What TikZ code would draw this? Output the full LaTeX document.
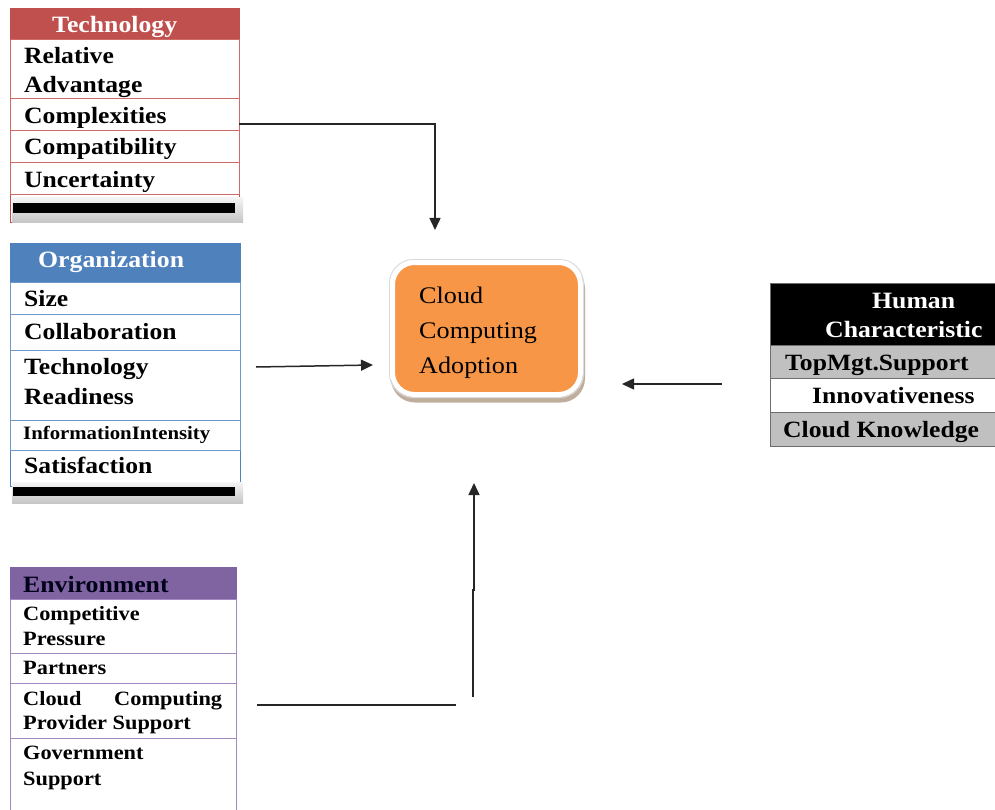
\documentclass[tikz,border=0pt]{standalone}
\usepackage{fontspec}
\setmainfont{Liberation Serif}[FakeStretch=1.1]
\usetikzlibrary{arrows.meta,shadows,calc}
\definecolor{techred}{HTML}{C0504D}
\definecolor{techline}{HTML}{D06A67}
\definecolor{orgblue}{HTML}{4F81BD}
\definecolor{orgline}{HTML}{6F98CC}
\definecolor{envpurple}{HTML}{8064A2}
\definecolor{envline}{HTML}{A08AC0}
\definecolor{humgray}{HTML}{C0C0C0}
\definecolor{humline}{HTML}{6E6E6E}
\definecolor{cloudorange}{HTML}{F79646}
\definecolor{conn}{HTML}{262626}
\newcommand\cellbox[6]{%
  \node[cellstyle,#6,minimum width={#4pt-#2pt},minimum height={#5pt-#3pt}] (#1) at (#2,#3) {};}
\begin{document}
\begin{tikzpicture}[x=1pt,y=-1pt,
  cellstyle/.style={draw,anchor=north west,inner sep=0pt,outer sep=0pt,line width=1pt},
  hd/.style={anchor=base west,inner sep=0pt,font=\bfseries\fontsize{23.4}{28}\selectfont},
  rowtxt/.style={anchor=base west,inner sep=0pt,text=black,font=\bfseries\fontsize{23.3}{28}\selectfont},
  envtxt/.style={anchor=base west,inner sep=0pt,text=black,font=\bfseries\fontsize{20.3}{24}\selectfont},
  cloudtxt/.style={anchor=base west,inner sep=0pt,text=black,font=\fontsize{23.8}{28}\selectfont},
  barpanel/.style={draw=none,anchor=north west,inner sep=0pt,top color=gray!8,bottom color=gray!45},
  blackbar/.style={fill=black,draw=none,anchor=north west,inner sep=0pt},
  conline/.style={draw=conn,line width=1.5pt},
  arr/.style={conline,-{Triangle[length=12pt,width=11pt]}}
]
\useasboundingbox (0,0) rectangle (995,810);

% ---------------- Technology ----------------
\cellbox{techouter}{10}{9}{239}{223}{draw=techred}
\cellbox{techhead}{10}{9}{239}{40}{draw=techred,fill=techred}
\cellbox{tr1}{10}{40}{239}{99}{draw=techline}
\cellbox{tr2}{10}{99}{239}{131}{draw=techline}
\cellbox{tr3}{10}{131}{239}{163}{draw=techline}
\cellbox{tr4}{10}{163}{239}{195}{draw=techline}
\node[barpanel,minimum width=231pt,minimum height=25pt] (techpanel) at (12,197) {};
\node[blackbar,minimum width=222pt,minimum height=10pt] (techbar) at (13,203) {};
\node[hd,text=white] (tht) at (52,33) {Technology};
\node[rowtxt] (tt1a) at (24,64) {Relative};
\node[rowtxt] (tt1b) at (24,93) {Advantage};
\node[rowtxt] (tt2) at (24,124) {Complexities};
\node[rowtxt] (tt3) at (24,155) {Compatibility};
\node[rowtxt] (tt4) at (24,188) {Uncertainty};

% ---------------- Organization ----------------
\cellbox{orgouter}{10}{244}{240}{486}{draw=orgblue}
\cellbox{orghead}{10}{244}{240}{282}{draw=orgblue,fill=orgblue}
\cellbox{or1}{10}{282}{240}{314}{draw=orgline}
\cellbox{or2}{10}{314}{240}{350}{draw=orgline}
\cellbox{or3}{10}{350}{240}{420}{draw=orgline}
\cellbox{or4}{10}{420}{240}{450}{draw=orgline}
\node[barpanel,minimum width=231pt,minimum height=21pt] (orgpanel) at (12,482) {};
\node[blackbar,minimum width=222pt,minimum height=9pt] (orgbar) at (13,487) {};
\node[hd,text=white] (oht) at (38,268) {Organization};
\node[rowtxt] (ot1) at (24,306) {Size};
\node[rowtxt] (ot2) at (24,339) {Collaboration};
\node[rowtxt] (ot3a) at (24,374) {Technology};
\node[rowtxt] (ot3b) at (24,404) {Readiness};
\node[rowtxt,font=\bfseries\fontsize{18.9}{22}\selectfont] (ot4) at (23,439) {InformationIntensity};
\node[rowtxt] (ot5) at (24,473) {Satisfaction};

% ---------------- Environment ----------------
\cellbox{envouter}{10}{567}{236}{815}{draw=envline}
\cellbox{envhead}{10}{567}{236}{599}{draw=envpurple,fill=envpurple}
\cellbox{er1}{10}{599}{236}{653}{draw=envline}
\cellbox{er2}{10}{653}{236}{683}{draw=envline}
\cellbox{er3}{10}{683}{236}{738}{draw=envline}
\node[hd,text=black!90!blue] (eht) at (23,592) {Environment};
\node[envtxt] (et1a) at (23,620) {Competitive};
\node[envtxt] (et1b) at (23,645) {Pressure};
\node[envtxt] (et2) at (23,674) {Partners};
\node[envtxt] (et3a) at (23,705) {\hbox to 199pt{Cloud\hfill Computing}};
\node[envtxt] (et3b) at (23,729) {Provider Support};
\node[envtxt] (et4a) at (23,759) {Government};
\node[envtxt] (et4b) at (23,785) {Support};

% ---------------- Human Characteristic ----------------
\cellbox{humhead}{770}{283}{1005}{345}{draw=humline,fill=black}
\cellbox{hr1}{770}{345}{1005}{378}{draw=humline,fill=humgray}
\cellbox{hr2}{770}{378}{1005}{412}{draw=humline,fill=white}
\cellbox{hr3}{770}{412}{1005}{446}{draw=humline,fill=humgray}
\node[hd,text=white] (hht1) at (872,308) {Human};
\node[hd,text=white] (hht2) at (825,337) {Characteristic};
\node[rowtxt] (ht1) at (785,370) {TopMgt.Support};
\node[rowtxt] (ht2) at (812,403) {Innovativeness};
\node[rowtxt] (ht3) at (783,437) {Cloud Knowledge};

% ---------------- Cloud Computing Adoption ----------------
\node[draw=gray!30,line width=1pt,rounded corners=24pt,minimum width=194pt,minimum height=138pt,inner sep=0pt,
      drop shadow={shadow xshift=1.5pt,shadow yshift=-5pt,fill=brown!60!black,opacity=0.45}] (cloudhalo) at (486.5,328.5) {};
\node[draw=white,fill=cloudorange,line width=5pt,rounded corners=22pt,minimum width=188pt,minimum height=132pt,inner sep=0pt] (cloud) at (486.5,328.5) {};
\node[cloudtxt] (ct1) at (419,303) {Cloud};
\node[cloudtxt] (ct2) at (419,338) {Computing};
\node[cloudtxt] (ct3) at (419,373) {Adoption};

% ---------------- Connectors ----------------
\coordinate (a1s) at (tr2.east |- 0,124);
\coordinate (a1e) at (435,230);
\draw[arr] (a1s) -| (a1e);

\coordinate (a2s) at (256,367);
\coordinate (a2e) at (373,365);
\draw[arr] (a2s) -- (a2e);

\coordinate (a3s) at (722,384);
\coordinate (a3e) at (622,384);
\draw[arr] (a3s) -- (a3e);

\coordinate (a4s) at (257,705);
\coordinate (a4m) at (456,705);
\draw[conline] (a4s) -- (a4m);
\coordinate (a5s) at (473,697);
\coordinate (a5j) at (473,590);
\coordinate (a5k) at (474,590);
\coordinate (a5e) at (474,483);
\draw[arr] (a5s) -- (a5j) -- (a5k) -- (a5e);
\end{tikzpicture}
\end{document}
